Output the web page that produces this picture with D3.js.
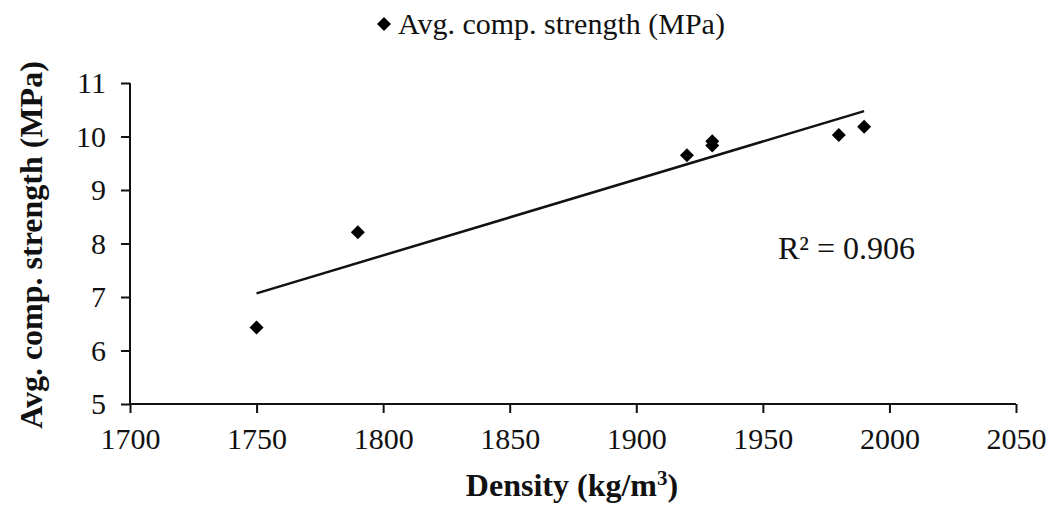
<!DOCTYPE html>
<html><head><meta charset="utf-8">
<script src="https://cdn.jsdelivr.net/npm/d3@7"></script>
<style>body{margin:0;background:#fff}svg{display:block}text{font-family:"Liberation Serif","Times New Roman",serif;fill:#111}</style>
</head><body>
<svg id="c" width="1050" height="506"></svg>
<script>
const density = [1750, 1790, 1920, 1930, 1930, 1980, 1990];
const strength = [6.43, 8.21, 9.65, 9.91, 9.83, 10.03, 10.18];
const xTicks = [1700, 1750, 1800, 1850, 1900, 1950, 2000, 2050];
const yTicks = [5, 6, 7, 8, 9, 10, 11];
const seriesName = "Avg. comp. strength (MPa)";
const r2Label = "R² = 0.906";

const svg = d3.select("#c");
const x = d3.scaleLinear().domain([1700, 2050]).range([130, 1016]);
const y = d3.scaleLinear().domain([5, 11]).range([404, 83]);

// axes
const xa = svg.append("g").attr("transform", "translate(0,404)")
  .call(d3.axisBottom(x).tickValues(xTicks).tickSize(9).tickPadding(8).tickFormat(d3.format("d")));
const ya = svg.append("g").attr("transform", "translate(130,0)")
  .call(d3.axisLeft(y).tickValues(yTicks).tickSize(9).tickPadding(15).tickFormat(d3.format("d")));
[xa, ya].forEach(a => {
  a.select(".domain").attr("stroke", "#111").attr("stroke-width", 2).attr("d",
    a === xa ? "M130,0H1016" : "M0,83V404");
  a.selectAll(".tick line").attr("stroke", "#111").attr("stroke-width", 2);
  a.selectAll(".tick text").style("font-size", "30px").attr("fill", "#111");
});
xa.selectAll(".tick text").attr("dy", "0.92em");

// trendline (least squares)
const n = density.length;
const mx = d3.mean(density), my = d3.mean(strength);
let sxy = 0, sxx = 0;
for (let i = 0; i < n; i++) { sxy += (density[i]-mx)*(strength[i]-my); sxx += (density[i]-mx)**2; }
const slope = sxy / sxx, icpt = my - slope * mx;
const x0 = d3.min(density), x1 = d3.max(density);
svg.append("line")
  .attr("x1", x(x0)).attr("y1", y(icpt + slope*x0))
  .attr("x2", x(x1)).attr("y2", y(icpt + slope*x1))
  .attr("stroke", "#111").attr("stroke-width", 2.5);

// points
const diamond = d3.symbol().type(d3.symbolSquare).size(98);
svg.append("g").selectAll("path").data(density).join("path")
  .attr("d", diamond)
  .attr("transform", (d, i) => `translate(${x(d)},${y(strength[i])}) rotate(45)`)
  .attr("fill", "#000");

// R2 label
svg.append("text").attr("x", 778).attr("y", 259).style("font-size", "32px").text(r2Label);

// legend
svg.append("path").attr("d", diamond).attr("transform", "translate(384,24) rotate(45)").attr("fill", "#000");
svg.append("text").attr("x", 398).attr("y", 34).style("font-size", "30px").text(seriesName);

// axis titles
const xt = svg.append("text").attr("x", 572).attr("y", 496).attr("text-anchor", "middle")
  .style("font-size", "32px").style("font-weight", "bold");
xt.append("tspan").text("Density (kg/m");
xt.append("tspan").attr("dy", -11).style("font-size", "21px").text("3");
xt.append("tspan").attr("dy", 11).text(")");

svg.append("text").attr("transform", "translate(42,245) rotate(-90)").attr("text-anchor", "middle")
  .style("font-size", "32px").style("font-weight", "bold").text(seriesName);
</script>
</body></html>
